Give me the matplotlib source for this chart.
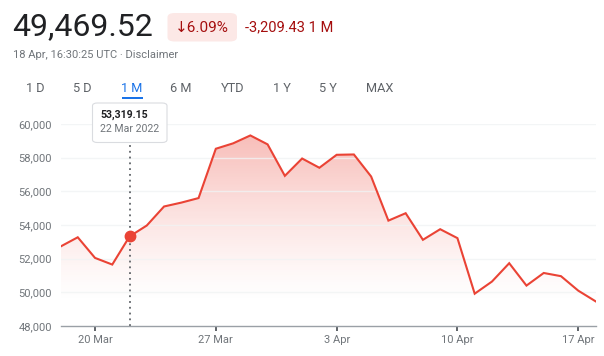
import numpy as np
import pandas as pd
import matplotlib

matplotlib.use("Agg")
import matplotlib.pyplot as plt
import matplotlib.dates as mdates
from matplotlib.patches import FancyBboxPatch, Rectangle

plt.rcParams["font.family"] = ["Roboto", "DejaVu Sans"]

W, H = 604, 356

# data (daily close, 18 Mar - 18 Apr 2022)
dates = pd.date_range("2022-03-18", "2022-04-18", freq="D")
prices = [52720, 53270, 52045, 51650, 53319.15, 53970, 55100, 55330, 55600,
          58530, 58850, 59320, 58790, 56920, 57950, 57400, 58170, 58190,
          56880, 54260, 54700, 53120, 53750, 53220, 49920, 50640, 51730,
          50400, 51150, 50960, 50100, 49469.52]
y_ticks = [48000, 50000, 52000, 54000, 56000, 58000, 60000]
x_ticks = ["2022-03-20", "2022-03-27", "2022-04-03", "2022-04-10", "2022-04-17"]
tabs = ["1 D", "5 D", "1 M", "6 M", "YTD", "1 Y", "5 Y", "MAX"]
tab_x = [35, 82, 132, 181, 233, 282, 328, 380]
active_tab = "1 M"
hover_date = "2022-03-22"

headline = "49,469.52"
change_pct = "↓6.09%"
change_abs = "-3,209.43 1 M"
stamp = "18 Apr, 16:30:25 UTC · Disclaimer"

RED = "#ea4335"
GREY = "#70757a"


def fx(px):
    return px / W


def fy(py):
    return 1 - py / H


fig = plt.figure(figsize=(W / 100, H / 100), dpi=100)
ax = fig.add_axes([fx(60.5), fy(326), fx(595.5) - fx(60.5), fy(124) - fy(326)])

x = mdates.date2num(dates)
y = np.asarray(prices)

# gradient under the line, fading out a bit above the bottom
grad = np.zeros((256, 2, 4))
grad[..., 0], grad[..., 1], grad[..., 2] = 0.92, 0.26, 0.21
grad[..., 3] = (np.linspace(1.0, 0.0, 256) ** 1.3 * 0.38)[:, None]
im = ax.imshow(grad, extent=[x[0], x[-1], 49300, 60000], aspect="auto",
               origin="upper", zorder=1, interpolation="bicubic")
poly = ax.fill_between(x, y, 48000, color="none", lw=0)
im.set_clip_path(poly.get_paths()[0], transform=ax.transData)

ax.plot(x, y, color=RED, lw=1.5, zorder=3, solid_joinstyle="miter")

hx = mdates.date2num(pd.Timestamp(hover_date))
hy = y[list(dates).index(pd.Timestamp(hover_date))]
ax.plot([hx], [hy], "o", color=RED, ms=7.5, zorder=4)
ax.plot([hx, hx], [48000, 60000], color="#5f6368", lw=1.3,
        linestyle=(0, (1, 2.2)), zorder=2, clip_on=False)

ax.set_xlim(x[0], x[-1])
ax.set_ylim(48000, 60000)
ax.set_yticks(y_ticks)
ax.set_yticklabels([f"{v:,}" for v in y_ticks])
ax.set_xticks(mdates.date2num(pd.to_datetime(x_ticks)))
ax.set_xticklabels([pd.Timestamp(d).strftime("%-d %b") for d in x_ticks])
for v in y_ticks[1:]:
    ax.axhline(v, color="#f1f3f4", lw=1, alpha=0.8, zorder=1.5)

for s in ["top", "right", "left"]:
    ax.spines[s].set_visible(False)
ax.spines["bottom"].set_color("#9aa0a6")
ax.spines["bottom"].set_linewidth(1)
ax.tick_params(axis="y", length=0, pad=6, labelsize=8, labelcolor=GREY)
ax.tick_params(axis="x", length=3.5, width=1.4, color="#5f6368", pad=3,
               labelsize=8, labelcolor=GREY)

# tooltip box
tip = FancyBboxPatch((fx(92.5), fy(142.5)), fx(167) - fx(92.5), fy(103) - fy(142.5),
                     boxstyle="round,pad=0,rounding_size=0.008",
                     transform=fig.transFigure, facecolor="white",
                     edgecolor="#dadce0", lw=0.8, zorder=10)
fig.patches.append(tip)
fig.text(fx(100), fy(115), f"{hy:,.2f}", fontsize=7.6, fontweight="bold",
         color="#202124", va="center", ha="left", zorder=11)
fig.text(fx(100), fy(129), pd.Timestamp(hover_date).strftime("%-d %b %Y"),
         fontsize=7.6, color=GREY, va="center", ha="left", zorder=11)

# header
fig.text(fx(12), fy(27), headline, fontsize=23, color="#202124",
         va="center", ha="left")
badge = FancyBboxPatch((fx(167.5), fy(41.5)), fx(237) - fx(167.5), fy(13) - fy(41.5),
                       boxstyle="round,pad=0,rounding_size=0.012",
                       transform=fig.transFigure, facecolor="#fce8e6",
                       edgecolor="none")
fig.patches.append(badge)
fig.text(fx(202), fy(27.5), change_pct, fontsize=11, color="#a50e0e",
         va="center", ha="center")
fig.text(fx(245), fy(27.5), change_abs, fontsize=10.5, color="#a50e0e",
         va="center", ha="left")
fig.text(fx(13), fy(55), stamp, fontsize=8, color=GREY, va="center", ha="left")

# range tabs
for lab, tx in zip(tabs, tab_x):
    c = "#1a73e8" if lab == active_tab else "#5f6368"
    fig.text(fx(tx), fy(88), lab, fontsize=9.2, color=c, va="center", ha="center")
    if lab == active_tab:
        fig.patches.append(Rectangle((fx(tx - 10.5), fy(98.5)), fx(21), fy(96.5) - fy(98.5),
                                     transform=fig.transFigure, color="#1a73e8",
                                     lw=0))

fig.savefig("out.png", dpi=100)
